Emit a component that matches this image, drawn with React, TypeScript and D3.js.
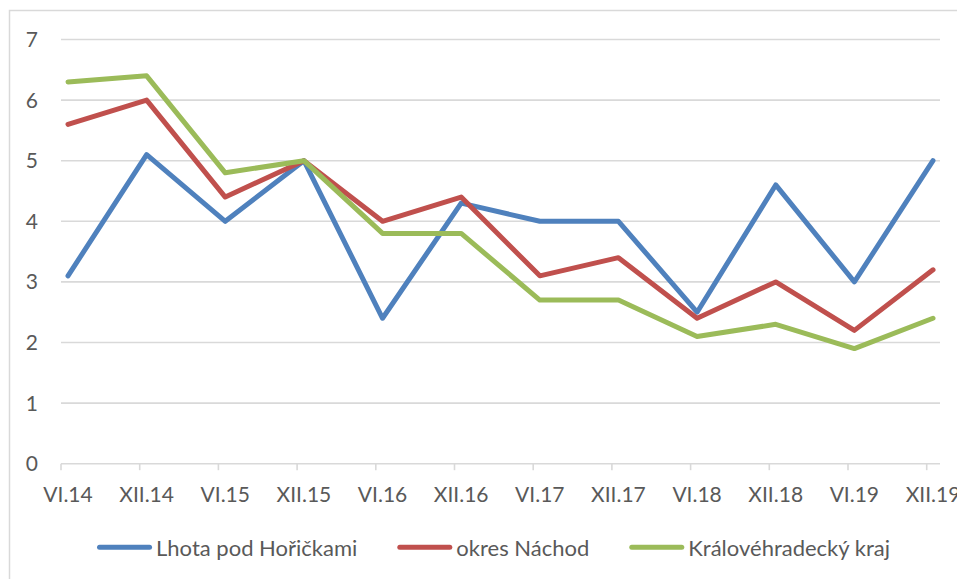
import React, { useEffect, useRef } from 'react';
import * as d3 from 'd3';

const categories = ['VI.14', 'XII.14', 'VI.15', 'XII.15', 'VI.16', 'XII.16', 'VI.17', 'XII.17', 'VI.18', 'XII.18', 'VI.19', 'XII.19'];
const lhota = [3.1, 5.1, 4.0, 5.0, 2.4, 4.3, 4.0, 4.0, 2.5, 4.6, 3.0, 5.0];
const nachod = [5.6, 6.0, 4.4, 5.0, 4.0, 4.4, 3.1, 3.4, 2.4, 3.0, 2.2, 3.2];
const kraj = [6.3, 6.4, 4.8, 5.0, 3.8, 3.8, 2.7, 2.7, 2.1, 2.3, 1.9, 2.4];
const seriesNames = ['Lhota pod Hořičkami', 'okres Náchod', 'Královéhradecký kraj'];
const seriesColors = ['#4F81BD', '#C0504D', '#9BBB59'];
const yTicks = [0, 1, 2, 3, 4, 5, 6, 7];

const W = 957;
const H = 579;
const FONT = 'Lato, "Open Sans", sans-serif';
const TEXT = '#595959';
const GRID = '#D9D9D9';

export default function App() {
  const ref = useRef<SVGSVGElement | null>(null);

  useEffect(() => {
    const svg = d3.select(ref.current);
    svg.selectAll('*').remove();

    const tickX = d3.scalePoint<string>().domain(categories).range([61, 926.7]);
    const ptX = d3.scalePoint<string>().domain(categories).range([68, 933]);
    const y = d3.scaleLinear().domain([0, 7]).range([463.7, 39.5]);

    svg.append('rect').attr('x', 0).attr('y', 0).attr('width', W).attr('height', H).attr('fill', '#fff');
    svg.append('rect').attr('x', 9.5).attr('y', 10.5).attr('width', 1200).attr('height', 1200)
      .attr('fill', '#fff').attr('stroke', GRID).attr('stroke-width', 1.5);

    // gridlines
    svg.append('g').selectAll('line').data(yTicks).join('line')
      .attr('x1', 61).attr('x2', 940)
      .attr('y1', d => y(d)).attr('y2', d => y(d))
      .attr('stroke', GRID).attr('stroke-width', 1.6);

    // tick marks
    svg.append('g').selectAll('line').data(categories).join('line')
      .attr('x1', d => tickX(d)!).attr('x2', d => tickX(d)!)
      .attr('y1', y(0)).attr('y2', y(0) + 6.5)
      .attr('stroke', GRID).attr('stroke-width', 1.6);

    // y labels
    svg.append('g').selectAll('text').data(yTicks).join('text')
      .attr('x', 38).attr('y', d => y(d) + 7.5)
      .attr('text-anchor', 'end')
      .attr('font-family', FONT).attr('font-size', 21).attr('fill', TEXT)
      .text(d => String(d));

    // x labels
    svg.append('g').selectAll('text').data(categories).join('text')
      .attr('x', d => ptX(d)!).attr('y', 502)
      .attr('text-anchor', 'middle')
      .attr('font-family', FONT).attr('font-size', 21).attr('fill', TEXT)
      .text(d => d);

    // lines
    const allSeries = [lhota, nachod, kraj];
    const line = d3.line<number>()
      .x((_, i) => ptX(categories[i])!)
      .y(d => y(d));
    allSeries.forEach((s, i) => {
      svg.append('path').datum(s)
        .attr('d', line)
        .attr('fill', 'none')
        .attr('stroke', seriesColors[i])
        .attr('stroke-width', 5)
        .attr('stroke-linejoin', 'round')
        .attr('stroke-linecap', 'round');
    });

    // legend
    const lg = svg.append('g');
    const items = seriesNames.map((name, i) => {
      const g = lg.append('g');
      g.append('line')
        .attr('x1', 2.5).attr('x2', 52.5).attr('y1', 0).attr('y2', 0)
        .attr('stroke', seriesColors[i]).attr('stroke-width', 5).attr('stroke-linecap', 'round');
      const t = g.append('text')
        .attr('x', 59).attr('y', 8.5)
        .attr('font-family', FONT).attr('font-size', 22).attr('fill', TEXT)
        .text(name);
      const w = (t.node() as SVGTextElement).getComputedTextLength();
      return { g, width: 59 + w };
    });
    const gap = 40;
    const total = d3.sum(items, d => d.width) + gap * (items.length - 1);
    let x = 493.5 - total / 2;
    items.forEach(it => {
      it.g.attr('transform', `translate(${x},547.3)`);
      x += it.width + gap;
    });
  }, []);

  return (
    <svg
      ref={ref}
      width={W}
      height={H}
      style={{ position: 'absolute', left: 0, top: 0, display: 'block' }}
    />
  );
}
